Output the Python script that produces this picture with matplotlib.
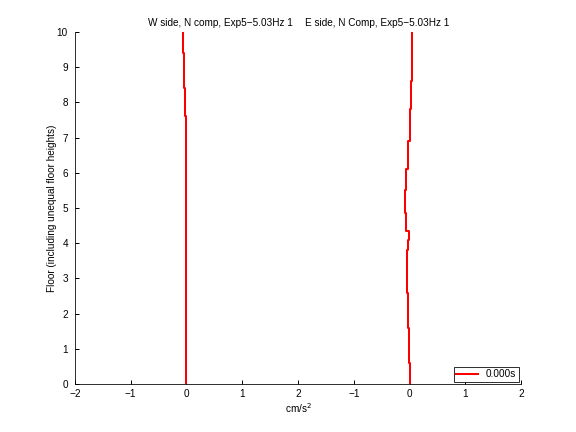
import matplotlib
matplotlib.use("Agg")
import matplotlib.pyplot as plt
import numpy as np

plt.rcParams['font.family'] = ['Liberation Sans', 'DejaVu Sans']
plt.rcParams['font.size'] = 10

# W side profile (floor where each step starts, acceleration in cm/s^2)
floor_w = [0.0, 1.5, 2.1, 4.85, 7.6, 8.4, 9.4, 10.0]
accel_w = [0.0, -0.01, 0.0, -0.01, -0.02, -0.04, -0.06, -0.06]

# E side profile
floor_e = [0.0, 0.6, 1.6, 2.6, 3.8, 4.1, 4.35, 4.85, 5.5, 6.1, 6.9, 7.3, 7.8, 8.6, 10.0]
accel_e = [0.0, -0.01, -0.03, -0.05, -0.03, -0.02, -0.06, -0.09, -0.06, -0.03,
           0.0, 0.01, 0.02, 0.035, 0.035]

tick_pos = [-2, -1, 0, 1, 2, 3, 4, 5, 6]
tick_labels = ['-2', '-1', '0', '1', '2', '-1', '0', '1', '2']
e_offset = 4

fig = plt.figure(figsize=(8, 6), dpi=72)
ax = fig.add_axes([0.13, 0.111, 0.775, 0.815])

ax.plot(accel_w, floor_w, color='red', lw=2, drawstyle='steps-pre', label='0.000s')
ax.plot(np.array(accel_e) + e_offset, floor_e, color='red', lw=2, drawstyle='steps-pre')

ax.set_xlim(-2, 6)
ax.set_ylim(0, 10)
ax.set_xticks(tick_pos)
ax.set_xticklabels([t.replace('-', '\u2212') for t in tick_labels])
ax.set_yticks(range(11))
ax.spines['top'].set_visible(False)
ax.spines['right'].set_visible(False)
ax.tick_params(direction='in', length=4, width=1, colors='black')
ax.tick_params(axis='x', pad=5)
ax.tick_params(axis='y', pad=7)
ax.set_xlabel('cm/s$^2$', labelpad=2)
ax.set_ylabel('Floor (including unequal floor heights)', labelpad=0)

fig.text(0.382, 0.947, 'W side, N comp, Exp5\u22125.03Hz 1', ha='center', va='center')
fig.text(0.655, 0.947, 'E side, N Comp, Exp5\u22125.03Hz 1', ha='center', va='center')

leg = ax.legend(loc='lower right', fancybox=False, framealpha=1, edgecolor='black',
                borderaxespad=0.25, handlelength=2.2, borderpad=0.25)
leg.get_frame().set_linewidth(0.8)

fig.savefig('out.png', dpi=72)
